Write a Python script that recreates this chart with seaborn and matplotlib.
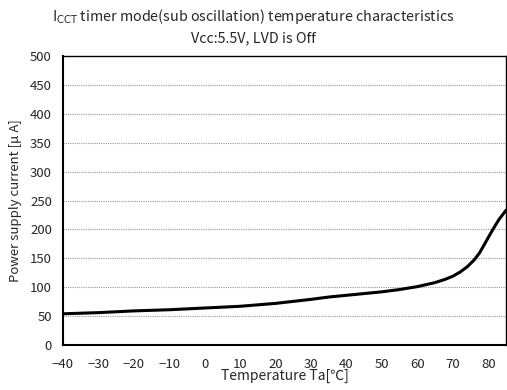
import numpy as np
import pandas as pd
import seaborn as sns
import matplotlib.pyplot as plt

# temperature [degC] vs current [uA]
temperature = [-40, -30, -20, -10, 0, 10, 20, 30, 35, 40, 50, 55, 60, 65, 68, 70, 72, 74, 76, 77.5, 79, 80, 81.5, 83, 85]
current = [54, 56, 59, 61, 64, 67, 72, 79, 83, 86, 92, 96, 101, 108, 114, 119, 126, 135, 147, 159, 175, 186, 202, 217, 233]

xticks = list(range(-40, 81, 10))
yticks = list(range(0, 501, 50))

sns.set_style("white")
plt.rcParams['font.family'] = ['Noto Sans CJK JP', 'DejaVu Sans']

df = pd.DataFrame({'temp': temperature, 'cur': current})

fig = plt.figure(figsize=(5.07, 3.9), dpi=100)
ax = fig.add_axes([63 / 507, 45 / 390, 443 / 507, 289 / 390])

for y in yticks[1:-1]:
    ax.axhline(y, color='#999999', lw=0.8, ls=(0, (1, 1)), zorder=1)

sns.lineplot(data=df, x='temp', y='cur', color='black', lw=2.2, ax=ax, zorder=3)

ax.set_xlim(-40, 85)
ax.set_ylim(0, 500)
ax.set_xticks(xticks)
ax.set_yticks(yticks)
ax.set_xticklabels([('\u2212' + str(-t)) if t < 0 else str(t) for t in xticks])
ax.tick_params(axis='x', direction='in', length=4, labelsize=9.5, pad=9, color='black')
ax.tick_params(axis='y', length=0, labelsize=9.5, pad=8)
for s in ax.spines.values():
    s.set_color('black')
    s.set_linewidth(1)
ax.spines['left'].set_linewidth(1.5)
ax.spines['bottom'].set_linewidth(1.5)

ax.set_xlabel('Temperature Ta[\u2103]', fontsize=10, labelpad=-1)
ax.set_ylabel('Power supply current [\u03bc A]', fontsize=9.5, labelpad=6)

fig.text(0.5, 1 - 16 / 390, r'I$_{\rm CCT}$ timer mode(sub oscillation) temperature characteristics',
         ha='center', va='center', fontsize=10.3)
fig.text(0.5, 1 - 38 / 390, 'Vcc:5.5V, LVD is Off', ha='center', va='center', fontsize=10.3)

fig.savefig('out.png', dpi=100)
